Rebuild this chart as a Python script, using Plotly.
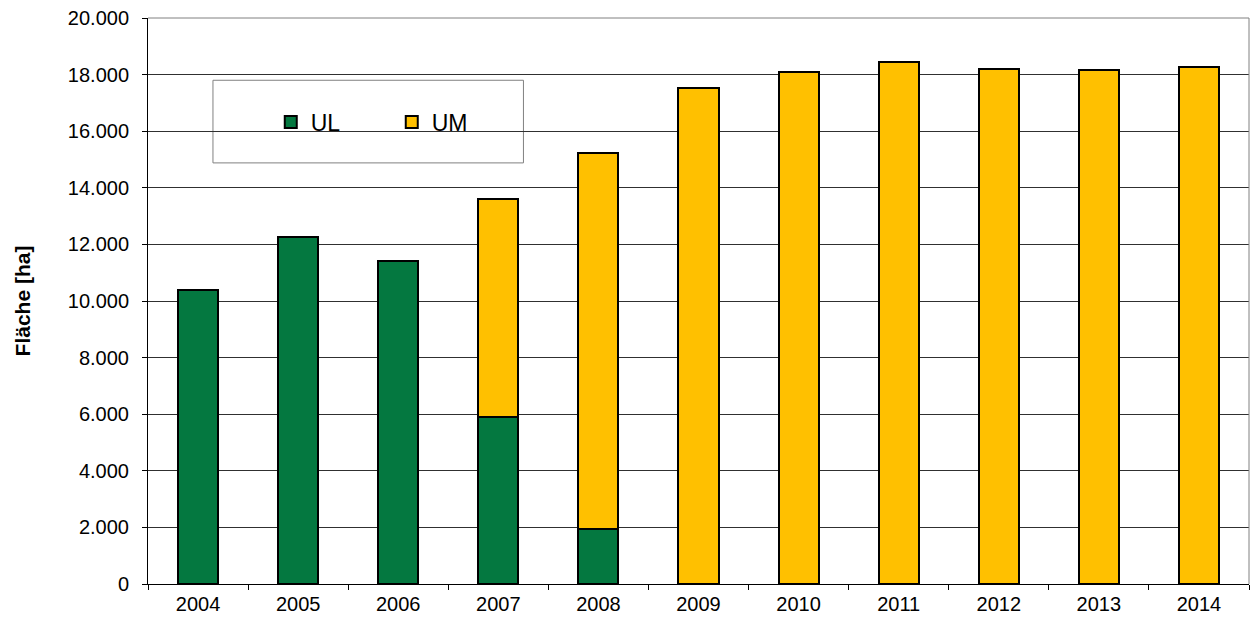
import plotly.graph_objects as go

years = ["2004", "2005", "2006", "2007", "2008", "2009", "2010", "2011", "2012", "2013", "2014"]
ul = [10390, 12260, 11410, 5900, 1940, 0, 0, 0, 0, 0, 0]
um = [0, 0, 0, 7700, 13290, 17530, 18090, 18450, 18200, 18160, 18270]
y_ticks = [0, 2000, 4000, 6000, 8000, 10000, 12000, 14000, 16000, 18000, 20000]

fig = go.Figure()
fig.add_trace(go.Bar(x=years, y=ul, name="UL", marker=dict(color="#047840", line=dict(color="#000000", width=2)), width=0.4))
fig.add_trace(go.Bar(x=years, y=um, name="UM", marker=dict(color="#FFC000", line=dict(color="#000000", width=2)), width=0.4))

fig.update_layout(
    barmode="stack",
    width=1255, height=623,
    margin=dict(l=148, r=6, t=18, b=39),
    paper_bgcolor="white", plot_bgcolor="white",
    separators=",.",
    font=dict(family="Liberation Sans, Arial, sans-serif", color="#000000", size=20),
    showlegend=True,
    legend=dict(orientation="h", x=0.1115, y=0.816, xanchor="left", yanchor="middle",
                bgcolor="rgba(0,0,0,0)", borderwidth=0, font=dict(size=23),
                entrywidth=76, entrywidthmode="pixels", traceorder="normal"),
    shapes=[dict(type="rect", xref="paper", yref="paper", x0=0.059, x1=0.341, y0=0.744, y1=0.890,
                 line=dict(color="#808080", width=1), fillcolor="white", layer="below")],
)
fig.update_xaxes(type="category", showline=True, linecolor="#000000", linewidth=1,
                 ticks="outside", tickson="boundaries", ticklen=5, tickcolor="#000000",
                 showgrid=False, mirror=False, tickfont=dict(size=20), ticklabelstandoff=2)
fig.update_yaxes(range=[0, 20000], tickvals=y_ticks, tickformat=",d",
                 showline=True, linecolor="#000000", linewidth=1,
                 ticks="outside", ticklen=5, tickcolor="#000000",
                 showgrid=True, gridcolor="#303030", gridwidth=1,
                 title=dict(text="<b>Fläche [ha]</b>", font=dict(size=21), standoff=31),
                 tickfont=dict(size=20), ticklabelstandoff=9)
# gray plot area frame on top and right
fig.add_shape(type="line", xref="paper", yref="paper", x0=0, x1=1, y0=1, y1=1, line=dict(color="#808080", width=1))
fig.add_shape(type="line", xref="paper", yref="paper", x0=1, x1=1, y0=0, y1=1, line=dict(color="#808080", width=1))

fig.write_html("out.html")
